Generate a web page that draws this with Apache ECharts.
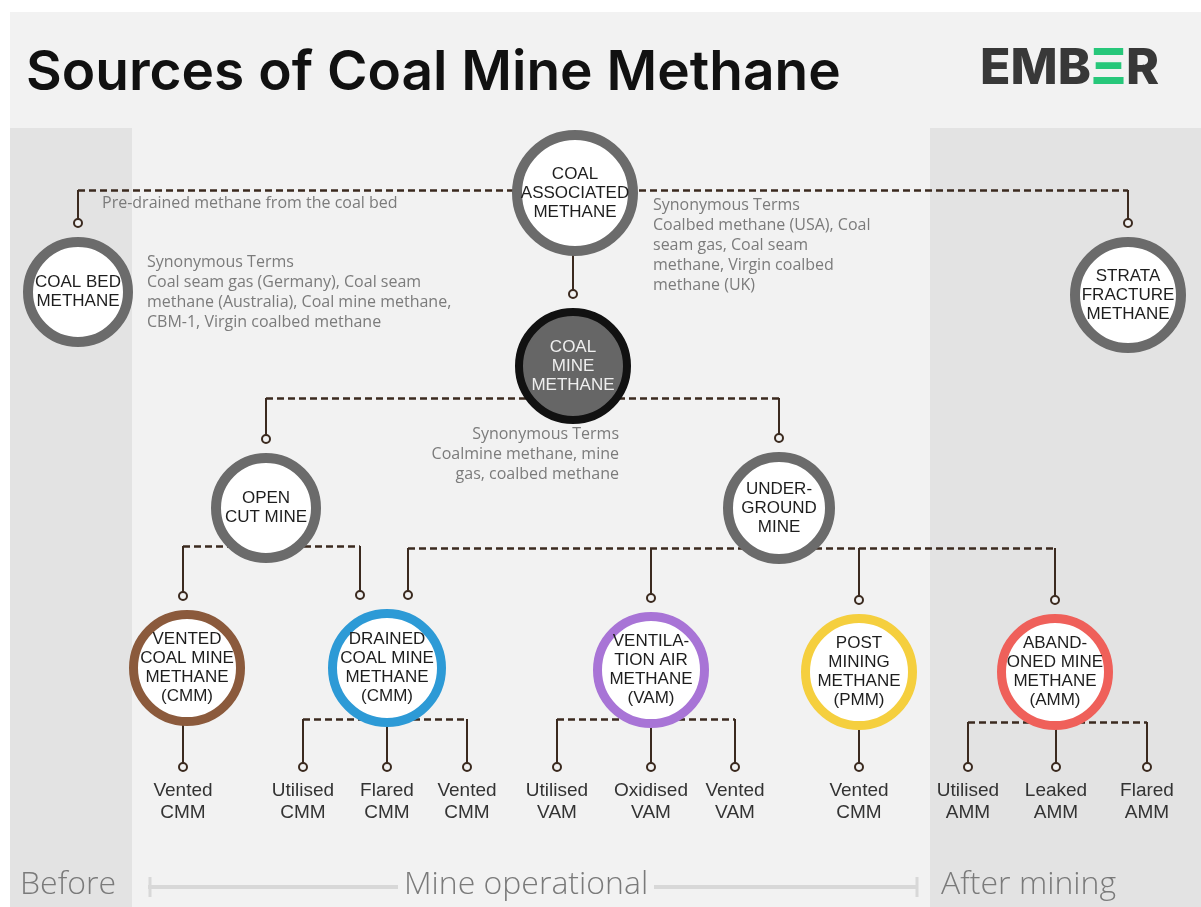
<!DOCTYPE html>
<html>
<head>
<meta charset="utf-8">
<script src="https://cdn.jsdelivr.net/npm/echarts@6/dist/echarts.min.js"></script>
<style>
html, body { margin: 0; padding: 0; background: #fff; }
#main { width: 1201px; height: 907px; }
</style>
</head>
<body>
<div id="main"></div>
<script>
'use strict';

/* ---- diagram content ---- */
var titleText = 'Sources of Coal Mine Methane';
var phaseLabels = ['Before', 'Mine operational', 'After mining'];

var nodeLabels = [
	'COAL\nASSOCIATED\nMETHANE',          // 0
	'COAL BED\nMETHANE',                  // 1
	'COAL\nMINE\nMETHANE',                // 2
	'STRATA\nFRACTURE\nMETHANE',          // 3
	'OPEN\nCUT MINE',                     // 4
	'UNDER-\nGROUND\nMINE',               // 5
	'VENTED\nCOAL MINE\nMETHANE\n(CMM)',  // 6
	'DRAINED\nCOAL MINE\nMETHANE\n(CMM)', // 7
	'VENTILA-\nTION AIR\nMETHANE\n(VAM)', // 8
	'POST\nMINING\nMETHANE\n(PMM)',       // 9
	'ABAND-\nONED MINE\nMETHANE\n(AMM)'   // 10
];
// parent -> child links between the circles
var linkFrom = [0, 0, 0, 2, 2, 4, 4, 5, 5, 5, 5];
var linkTo   = [1, 2, 3, 4, 5, 6, 7, 7, 8, 9, 10];

var leafLabels = [
	'Vented\nCMM',
	'Utilised\nCMM', 'Flared\nCMM', 'Vented\nCMM',
	'Utilised\nVAM', 'Oxidised\nVAM', 'Vented\nVAM',
	'Vented\nCMM',
	'Utilised\nAMM', 'Leaked\nAMM', 'Flared\nAMM'
];
var leafParent = [6, 7, 7, 7, 8, 8, 8, 9, 10, 10, 10];

var notes = [
	'Pre-drained methane from the coal bed',
	'Synonymous Terms\nCoal seam gas (Germany), Coal seam\nmethane (Australia), Coal mine methane,\nCBM-1, Virgin coalbed methane',
	'Synonymous Terms\nCoalbed methane (USA), Coal\nseam gas, Coal seam\nmethane, Virgin coalbed\nmethane (UK)',
	'Synonymous Terms\nCoalmine methane, mine\ngas, coalbed methane'
];

/* ---- layout (page units) ---- */
var nodeX = [575, 78, 573, 1128, 266, 779, 187, 387, 651, 859, 1055];
var nodeY = [193, 292, 366, 295, 508, 508, 668, 668, 670, 672, 672];
var nodeR = [63, 55, 58, 58, 55, 56, 58, 59, 58, 58, 58];
var busY  = [190, 0, 398, 0, 546, 548, 719, 719, 719, 719, 722];
var linkDx = [0, 0, 0, 0, 0, -4, -27, 21, 0, 0, 0];
var leafX = [183, 303, 387, 467, 557, 651, 735, 859, 968, 1056, 1147];
var leafY = 767;

var ringColor = ['#6b6b6b', '#6b6b6b', '#111111', '#6b6b6b', '#6b6b6b', '#6b6b6b',
	'#8b5a3c', '#2d9ad6', '#a874d6', '#f5cf3e', '#ef605a'];
var lineColor = '#3b2a1f';
var fontMain = '"Liberation Sans", Arial, sans-serif';
var fontSoft = '"Open Sans", sans-serif';

/* ---- connectors ---- */
var busLines = [];
var dropLines = [];
var dots = [];

// horizontal dashed bus for every parent
var kids = {};
linkFrom.forEach(function (p, i) {
	(kids[p] = kids[p] || []).push(nodeX[linkTo[i]] + linkDx[i]);
});
leafParent.forEach(function (p, i) {
	(kids[p] = kids[p] || []).push(leafX[i]);
});
Object.keys(kids).forEach(function (p) {
	var xs = kids[p].concat([nodeX[p]]);
	var x0 = Math.min.apply(null, xs), x1 = Math.max.apply(null, xs);
	if (x1 - x0 > 6) busLines.push({ coords: [[x0, busY[p]], [x1, busY[p]]] });
});
// solid drops ending in a small ring
linkFrom.forEach(function (p, i) {
	var c = linkTo[i];
	var x = nodeX[c] + linkDx[i];
	var yEnd = nodeY[c] - nodeR[c] - 14;
	dropLines.push({ coords: [[x, busY[p]], [x, yEnd]] });
	dots.push({ value: [x, yEnd] });
});
leafParent.forEach(function (p, i) {
	dropLines.push({ coords: [[leafX[i], busY[p]], [leafX[i], leafY]] });
});

/* ---- circles ---- */
var circleData = nodeLabels.map(function (name, i) {
	var bw = i === 2 ? 8 : (i >= 6 ? 9 : 10);
	var dark = i === 2;
	return {
		name: name,
		value: [nodeX[i], nodeY[i]],
		symbolSize: 2 * nodeR[i] - bw,
		itemStyle: {
			color: dark ? '#666666' : '#ffffff',
			borderColor: ringColor[i],
			borderWidth: bw,
			opacity: 1
		},
		label: { color: dark ? '#eeeeee' : '#1e1e1e' }
	};
});

var leafData = leafLabels.map(function (name, i) {
	return { name: name, value: [leafX[i], leafY] };
});

var chart = echarts.init(document.getElementById('main'));

var noteStyle = function (txt, align) {
	return {
		text: txt, fill: '#7b7b7b', fontSize: 16, lineHeight: 20,
		fontFamily: fontSoft, align: align || 'left'
	};
};
var phaseStyle = function (txt, align) {
	return {
		text: txt, fill: '#7a7a7a', fontSize: 32, fontWeight: 300,
		fontFamily: fontSoft, align: align || 'left', verticalAlign: 'middle'
	};
};

var option = {
	backgroundColor: '#ffffff',
	animation: false,
	grid: { left: 0, right: 0, top: 0, bottom: 0 },
	xAxis: { type: 'value', min: 0, max: 1201, show: false },
	yAxis: { type: 'value', min: 0, max: 907, inverse: true, show: false },
	graphic: [
		{ type: 'rect', shape: { x: 10, y: 12, width: 1191, height: 895 }, style: { fill: '#f2f2f2' } },
		{ type: 'rect', shape: { x: 10, y: 128, width: 122, height: 779 }, style: { fill: '#e3e3e3' } },
		{ type: 'rect', shape: { x: 930, y: 128, width: 271, height: 779 }, style: { fill: '#e3e3e3' } },
		{
			type: 'text', x: 26, y: 73,
			style: {
				text: titleText, fill: '#111111', fontSize: 55, fontWeight: 600,
				fontFamily: 'Inter, sans-serif', verticalAlign: 'middle'
			}
		},
		{
			type: 'text', x: 1159, y: 69,
			style: {
				text: '{d|EMB}{g|Ξ}{d|R}', align: 'right', verticalAlign: 'middle',
				rich: {
					d: { fontSize: 50, fontWeight: 800, fontFamily: 'Inter, sans-serif', fill: '#383838' },
					g: { fontSize: 50, fontWeight: 800, fontFamily: 'Inter, sans-serif', fill: '#27c77a' }
				}
			}
		},
		// phase bar
		{ type: 'line', shape: { x1: 148, y1: 887, x2: 398, y2: 887 }, style: { stroke: '#d8d8d8', lineWidth: 4 } },
		{ type: 'line', shape: { x1: 654, y1: 887, x2: 918, y2: 887 }, style: { stroke: '#d8d8d8', lineWidth: 4 } },
		{ type: 'line', shape: { x1: 150, y1: 877, x2: 150, y2: 897 }, style: { stroke: '#d8d8d8', lineWidth: 3 } },
		{ type: 'line', shape: { x1: 917, y1: 877, x2: 917, y2: 897 }, style: { stroke: '#d8d8d8', lineWidth: 3 } },
		{ type: 'text', x: 20, y: 885, style: phaseStyle(phaseLabels[0]) },
		{ type: 'text', x: 526, y: 885, style: phaseStyle(phaseLabels[1], 'center') },
		{ type: 'text', x: 941, y: 885, style: phaseStyle(phaseLabels[2]) },
		// notes
		{ type: 'text', x: 102, y: 193, style: noteStyle(notes[0]) },
		{ type: 'text', x: 147, y: 252, style: noteStyle(notes[1]) },
		{ type: 'text', x: 653, y: 195, style: noteStyle(notes[2]) },
		{ type: 'text', x: 619, y: 424, style: noteStyle(notes[3], 'right') }
	],
	series: [
		{
			type: 'lines',
			coordinateSystem: 'cartesian2d',
			z: 2,
			lineStyle: { color: lineColor, width: 2.5, type: [7, 4], opacity: 1 },
			data: busLines
		},
		{
			type: 'lines',
			coordinateSystem: 'cartesian2d',
			z: 2,
			lineStyle: { color: lineColor, width: 2, type: 'solid', opacity: 1 },
			data: dropLines
		},
		{
			type: 'scatter',
			z: 4,
			symbol: 'circle',
			data: circleData,
			label: {
				show: true,
				position: 'inside',
				formatter: '{b}',
				fontSize: 17,
				lineHeight: 19,
				fontFamily: fontMain
			},
			emphasis: { disabled: true }
		},
		{
			type: 'scatter',
			z: 5,
			symbol: 'circle',
			symbolSize: 8,
			itemStyle: { color: '#f2f2f2', borderColor: lineColor, borderWidth: 2, opacity: 1 },
			data: dots,
			emphasis: { disabled: true }
		},
		{
			type: 'scatter',
			z: 5,
			symbol: 'circle',
			symbolSize: 8,
			itemStyle: { color: '#f2f2f2', borderColor: lineColor, borderWidth: 2, opacity: 1 },
			data: leafData,
			label: {
				show: true,
				position: 'bottom',
				distance: 8,
				formatter: '{b}',
				color: '#333333',
				fontSize: 19,
				lineHeight: 22,
				fontFamily: fontMain
			},
			emphasis: { disabled: true }
		}
	]
};
chart.setOption(option);
</script>
</body>
</html>
